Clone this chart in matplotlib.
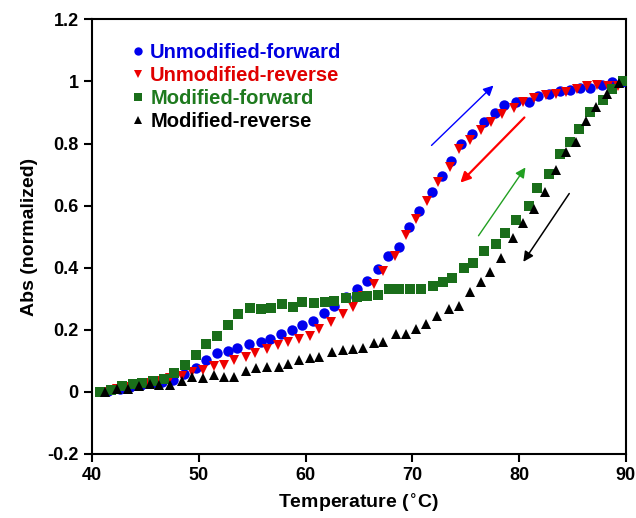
import matplotlib
matplotlib.use("Agg")
import matplotlib.pyplot as plt
from matplotlib.lines import Line2D

plt.rcParams['font.family'] = ['Liberation Sans', 'DejaVu Sans']
plt.rcParams['font.weight'] = 'bold'

# ---------------- data ----------------
unmod_fwd_T = [41.5, 42.6, 43.6, 44.6, 45.6, 46.6, 47.6, 48.6, 49.7, 50.7, 51.7, 52.7, 53.6,
               54.7, 55.8, 56.7, 57.7, 58.7, 59.7, 60.7, 61.7, 62.7, 63.8, 64.8, 65.8, 66.8,
               67.7, 68.8, 69.7, 70.6, 71.8, 72.8, 73.6, 74.6, 75.6, 76.7, 77.7, 78.6, 79.7,
               80.9, 81.8, 82.8, 83.8, 84.8, 85.7, 86.6, 87.8, 88.7, 89.6]
unmod_fwd_A = [0.003, 0.010, 0.017, 0.022, 0.028, 0.032, 0.039, 0.058, 0.077, 0.103, 0.126,
               0.132, 0.142, 0.155, 0.161, 0.171, 0.187, 0.200, 0.216, 0.229, 0.255, 0.277,
               0.306, 0.332, 0.358, 0.397, 0.439, 0.468, 0.532, 0.584, 0.645, 0.697, 0.745,
               0.797, 0.832, 0.871, 0.897, 0.923, 0.935, 0.935, 0.952, 0.961, 0.968, 0.971,
               0.980, 0.980, 0.990, 0.997, 0.997]

unmod_rev_T = [41.2, 42.3, 43.3, 44.3, 45.3, 46.3, 47.3, 48.4, 49.4, 50.4, 51.4, 52.4, 53.3,
               54.4, 55.3, 56.4, 57.4, 58.4, 59.4, 60.4, 61.3, 62.4, 63.5, 64.4, 65.4, 66.4,
               67.3, 68.4, 69.4, 70.3, 71.4, 72.4, 73.5, 74.4, 75.4, 76.4, 77.4, 78.4, 79.5,
               80.4, 81.4, 82.5, 83.5, 84.4, 85.4, 86.4, 87.3, 88.3, 89.3]
unmod_rev_A = [0.000, 0.008, 0.015, 0.020, 0.028, 0.035, 0.045, 0.052, 0.065, 0.071, 0.084,
               0.087, 0.103, 0.113, 0.126, 0.139, 0.152, 0.161, 0.171, 0.181, 0.203, 0.226,
               0.252, 0.274, 0.310, 0.348, 0.390, 0.439, 0.506, 0.558, 0.616, 0.677, 0.723,
               0.784, 0.813, 0.845, 0.871, 0.894, 0.916, 0.935, 0.948, 0.955, 0.961, 0.965,
               0.977, 0.984, 0.987, 0.984, 0.984]

mod_fwd_T = [40.7, 41.8, 42.8, 43.8, 44.7, 45.7, 46.7, 47.7, 48.7, 49.7, 50.7, 51.7, 52.7,
             53.7, 54.8, 55.8, 56.8, 57.8, 58.8, 59.7, 60.8, 61.8, 62.7, 63.8, 64.8, 65.8,
             66.8, 67.8, 68.8, 69.8, 70.8, 71.9, 72.9, 73.7, 74.8, 75.7, 76.7, 77.8, 78.7,
             79.7, 80.9, 81.7, 82.8, 83.8, 84.8, 85.6, 86.6, 87.9, 88.7, 89.7]
mod_fwd_A = [0.000, 0.006, 0.020, 0.026, 0.030, 0.035, 0.040, 0.060, 0.087, 0.120, 0.155,
             0.180, 0.215, 0.250, 0.270, 0.268, 0.270, 0.284, 0.275, 0.290, 0.287, 0.290,
             0.294, 0.302, 0.306, 0.308, 0.313, 0.330, 0.330, 0.332, 0.332, 0.340, 0.355,
             0.368, 0.400, 0.416, 0.455, 0.477, 0.513, 0.555, 0.600, 0.658, 0.703, 0.765,
             0.806, 0.848, 0.903, 0.939, 0.977, 1.000]

mod_rev_T = [41.2, 42.3, 43.4, 44.4, 45.4, 46.3, 47.3, 48.4, 49.4, 50.4, 51.4, 52.4, 53.3,
             54.4, 55.4, 56.4, 57.5, 58.4, 59.4, 60.4, 61.3, 62.5, 63.5, 64.4, 65.4, 66.4,
             67.3, 68.5, 69.4, 70.3, 71.3, 72.3, 73.4, 74.4, 75.4, 76.4, 77.3, 78.3, 79.4,
             80.4, 81.4, 82.4, 83.5, 84.4, 85.3, 86.3, 87.2, 88.2, 89.4]
mod_rev_A = [0.000, 0.010, 0.010, 0.020, 0.024, 0.022, 0.022, 0.035, 0.047, 0.045, 0.055,
             0.048, 0.048, 0.068, 0.077, 0.081, 0.081, 0.090, 0.103, 0.110, 0.113, 0.129,
             0.135, 0.139, 0.142, 0.158, 0.161, 0.187, 0.187, 0.203, 0.219, 0.245, 0.268,
             0.277, 0.323, 0.355, 0.387, 0.432, 0.497, 0.545, 0.590, 0.645, 0.716, 0.774,
             0.806, 0.874, 0.919, 0.958, 0.994]

labels = ['Unmodified-forward', 'Unmodified-reverse', 'Modified-forward', 'Modified-reverse']
colors = ['#0000ee', '#ee0000', '#1a6e1a', '#000000']
text_colors = ['#0000e0', '#e00000', '#1e7a1e', '#000000']
markers = ['o', 'v', 's', '^']

# arrows: (tail_T, tail_A, head_T, head_A)
arrows = [(71.8, 0.794, 77.6, 0.987),
          (80.5, 0.884, 74.5, 0.674),
          (76.2, 0.503, 80.6, 0.723),
          (84.7, 0.639, 80.4, 0.419)]
arrow_colors = ['#0000ff', '#ff0000', '#22a022', '#000000']
arrow_widths = [1.0, 1.6, 1.0, 1.1]

xticks = [40, 50, 60, 70, 80, 90]
yticks = [-0.2, 0, 0.2, 0.4, 0.6, 0.8, 1.0, 1.2]
ytick_labels = ['-0.2', '0', '0.2', '0.4', '0.6', '0.8', '1', '1.2']

# ---------------- plot ----------------
fig = plt.figure(figsize=(6.36, 5.18), dpi=100)
ax = fig.add_axes([0.1447, 0.1236, 0.8393, 0.8390])

series = [(unmod_fwd_T, unmod_fwd_A), (unmod_rev_T, unmod_rev_A),
          (mod_fwd_T, mod_fwd_A), (mod_rev_T, mod_rev_A)]
sizes = [7.5, 7.5, 7.0, 7.5]
for i, (T, A) in enumerate(series):
    ax.plot(T, A, linestyle='none', marker=markers[i], color=colors[i],
            markersize=sizes[i], markeredgewidth=0, zorder=3 + i)

for (t0, a0, t1, a1), c, w in zip(arrows, arrow_colors, arrow_widths):
    ax.annotate('', xy=(t1, a1), xytext=(t0, a0),
                arrowprops=dict(arrowstyle='-|>', color=c, lw=w,
                                mutation_scale=15, shrinkA=0, shrinkB=0))

ax.set_xlim(40, 90)
ax.set_ylim(-0.2, 1.2)
ax.set_xticks(xticks)
ax.set_yticks(yticks)
ax.set_yticklabels(ytick_labels)
ax.tick_params(axis='both', direction='out', length=6, width=1.5, labelsize=13,
               top=False, right=False)
for s in ax.spines.values():
    s.set_linewidth(1.5)

ax.set_xlabel('Temperature ($^{\\circ}$C)', fontsize=14, fontweight='bold', labelpad=5)
ax.set_ylabel('Abs (normalized)', fontsize=14, fontweight='bold', labelpad=7)

handles = [Line2D([], [], linestyle='none', marker=markers[i], color=colors[i],
                  markersize=6, markeredgewidth=0) for i in range(4)]
leg = ax.legend(handles, labels, loc='upper left', bbox_to_anchor=(0.06, 0.965),
                frameon=False, fontsize=14.5, handlelength=0.6, handletextpad=0.3,
                labelspacing=0.2, borderaxespad=0)
for t, c in zip(leg.get_texts(), text_colors):
    t.set_color(c)
    t.set_fontweight('bold')

fig.savefig('out.png', dpi=100)
